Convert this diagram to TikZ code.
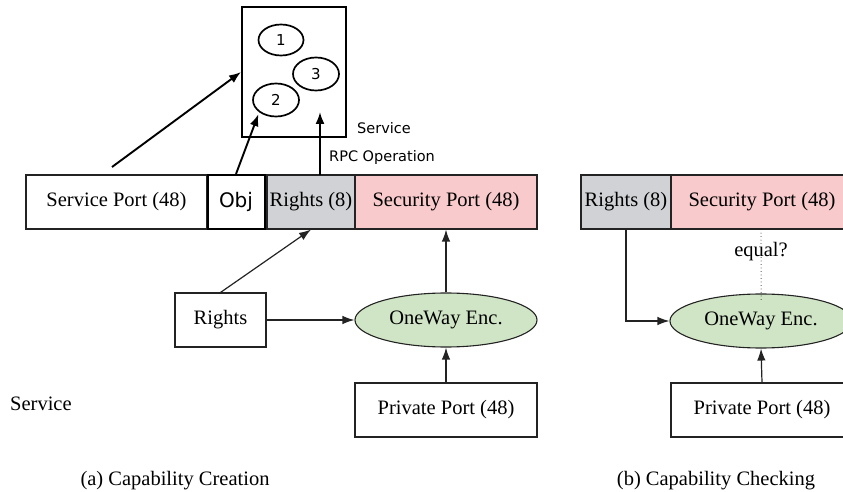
\documentclass[tikz,border=0pt]{standalone}
\usepackage{fontspec}
\setmainfont{Liberation Serif}
\newfontfamily\verasans{DejaVu Sans}
\usetikzlibrary{shapes.geometric,arrows.meta}
\definecolor{rightsgray}{RGB}{209,210,213}
\definecolor{secpink}{RGB}{249,202,203}
\definecolor{encgreen}{RGB}{208,229,197}
\definecolor{edgeline}{RGB}{35,35,35}
\newcommand\capsize{\fontsize{20.5}{24}\selectfont}
\begin{document}
\begin{tikzpicture}[x=1pt,y=-1pt,
  field/.style={draw=edgeline,line width=1.1pt,inner sep=0pt,minimum height=54pt,font=\capsize},
  oval/.style={ellipse,draw=edgeline,line width=1.1pt,inner sep=0pt,fill=encgreen,
    minimum width=182pt,minimum height=54pt,font=\capsize},
  slot/.style={ellipse,draw=black,line width=1.7pt,inner sep=0pt,font=\verasans\fontsize{15}{18}\selectfont},
  sanslabel/.style={anchor=west,inner sep=0pt,font=\verasans\fontsize{14.5}{17}\selectfont},
  thinarrow/.style={draw=edgeline,line width=1.2pt,-{Latex[length=12pt,width=8.5pt]}},
  thickarrow/.style={draw=black,line width=1.9pt,-{Latex[length=12pt,width=9pt]}},
  dotline/.style={draw=edgeline,line width=1pt,line cap=round,dash pattern=on 0pt off 3.5pt},
  plainlabel/.style={inner sep=0pt,font=\capsize}]
\useasboundingbox (0,0) rectangle (843,492);

% the service holding objects
\node[draw=black,line width=2pt,minimum width=104pt,minimum height=130pt,inner sep=0pt] (svc) at (294,72) {};
\node[slot,minimum width=45pt,minimum height=31pt] (e1) at (281,40) {1};
\node[slot,minimum width=46pt,minimum height=33pt] (e3) at (316,74) {3};
\node[slot,minimum width=46pt,minimum height=33pt] (e2) at (276,100) {2};
\node[sanslabel] (svclbl) at (357,128) {Service};
\node[sanslabel] (rpclbl) at (329,157) {RPC Operation};

% (a) capability layout
\node[field,minimum width=181pt] (sp) at (116.5,202) {Service Port (48)};
\node[field,minimum width=57pt,draw=black,line width=2pt,font=\verasans\fontsize{20}{24}\selectfont] (obj) at (236,202) {Obj};
\node[field,minimum width=88pt,fill=rightsgray] (r8) at (311,202) {Rights (8)};
\node[field,minimum width=182pt,fill=secpink] (sec) at (446,202) {Security Port (48)};

\node[field,minimum width=91pt] (rights) at (220.5,320) {Rights};
\node[oval] (enc) at (446,320) {OneWay Enc.};
\node[field,minimum width=182pt] (pp) at (446,410) {Private Port (48)};

\node[plainlabel,anchor=west] (svcword) at (10,404) {Service};
\node[plainlabel] (capa) at (175,481) {(a) Capability Creation};

% (b) capability checking
\node[field,minimum width=90pt,fill=rightsgray] (r8b) at (626,202) {Rights (8)};
\node[field,minimum width=182pt,fill=secpink] (secb) at (762,202) {Security Port (48)};
\node[oval] (encb) at (761,321) {OneWay Enc.};
\node[field,minimum width=182pt] (ppb) at (762,410) {Private Port (48)};
\node[plainlabel] (capb) at (716,481) {(b) Capability Checking};
\node[plainlabel] (eq) at (761,252) {equal?};

% connectors, part (a)
\coordinate (portup) at (112,167);
\coordinate (rpcfoot) at (320,175);
\coordinate (rpchead) at (320,112);
\draw[thickarrow] (portup) -- (svc.west);
\draw[thickarrow,shorten >=2pt] (obj.north) -- (e2.south west);
\draw[thickarrow] (rpcfoot) -- (rpchead);
\draw[thinarrow] (rights.north) -- (r8.south);
\draw[thinarrow] (rights.east) -- (enc.west);
\draw[thinarrow] (enc.north) -- (sec.south);
\draw[thinarrow] (pp.north) -- (enc.south);

% connectors, part (b)
\draw[thinarrow] (r8b.south) |- (encb.west);
\draw[thinarrow] (ppb.north) -- (encb.south);
\draw[dotline] ([xshift=-1pt]secb.south) -- ([yshift=-3pt]eq.north);
\draw[dotline] ([yshift=4pt]eq.south) -- ([yshift=-9pt]encb.north);
\end{tikzpicture}
\end{document}
